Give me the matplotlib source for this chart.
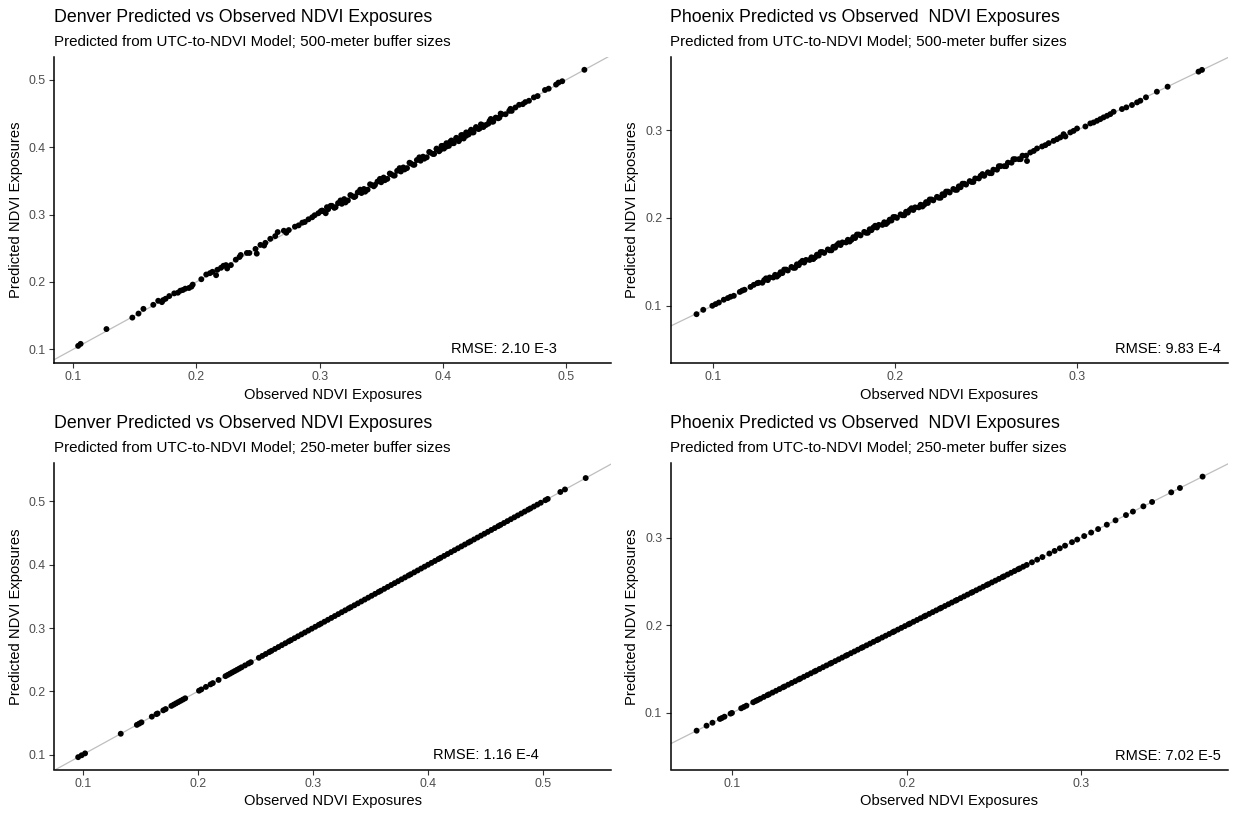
import matplotlib.pyplot as plt

plt.rcParams['font.family'] = ['Liberation Sans', 'DejaVu Sans']

# Denver, 500-meter buffers
den500_obs = [
    0.104, 0.106, 0.127, 0.148, 0.153, 0.157, 0.165, 0.169, 0.172, 0.173,
    0.175, 0.178, 0.182, 0.185, 0.187, 0.189, 0.191, 0.194, 0.196, 0.197,
    0.204, 0.208, 0.211, 0.213, 0.216, 0.217, 0.220, 0.222, 0.224, 0.225,
    0.228, 0.232, 0.235, 0.236, 0.241, 0.243, 0.248, 0.249, 0.252, 0.255,
    0.256, 0.260, 0.264, 0.266, 0.271, 0.273, 0.275, 0.280, 0.283, 0.286,
    0.288, 0.291, 0.294, 0.296, 0.299, 0.302, 0.306,
    0.303, 0.307, 0.310, 0.312, 0.315, 0.318, 0.320, 0.323, 0.326, 0.328,
    0.331, 0.334, 0.336, 0.339, 0.342, 0.344, 0.347, 0.350, 0.352, 0.355,
    0.358, 0.360, 0.363, 0.366, 0.368, 0.371, 0.374, 0.376, 0.379, 0.382,
    0.384, 0.387, 0.390, 0.392, 0.395, 0.398, 0.400, 0.403, 0.406, 0.408,
    0.411, 0.414, 0.416, 0.419, 0.422, 0.424, 0.427, 0.430, 0.432, 0.435,
    0.438, 0.440, 0.443, 0.446, 0.448, 0.451, 0.454, 0.456, 0.459,
    0.305, 0.313, 0.321, 0.329, 0.337, 0.345, 0.353, 0.361, 0.369, 0.377,
    0.385, 0.393, 0.397, 0.401, 0.405, 0.409, 0.413, 0.417, 0.421, 0.425,
    0.429, 0.433, 0.437, 0.441, 0.445,
    0.301, 0.309, 0.317, 0.325, 0.333, 0.341, 0.349, 0.357, 0.365, 0.373,
    0.381, 0.389, 0.395, 0.399, 0.403, 0.407, 0.411, 0.415, 0.419, 0.423,
    0.427, 0.431, 0.439, 0.447, 0.455,
    0.462, 0.465, 0.467, 0.470, 0.474, 0.477, 0.483, 0.486, 0.492, 0.494,
    0.497, 0.515,
]
den500_pred = [
    0.105, 0.108, 0.130, 0.147, 0.153, 0.160, 0.166, 0.172, 0.170, 0.173,
    0.175, 0.179, 0.183, 0.184, 0.187, 0.188, 0.190, 0.191, 0.193, 0.196,
    0.204, 0.211, 0.213, 0.215, 0.210, 0.218, 0.221, 0.224, 0.225, 0.220,
    0.225, 0.233, 0.237, 0.240, 0.243, 0.243, 0.249, 0.242, 0.255, 0.254,
    0.258, 0.264, 0.268, 0.274, 0.276, 0.273, 0.277, 0.282, 0.284, 0.288,
    0.289, 0.293, 0.296, 0.299, 0.302, 0.306, 0.311,
    0.305, 0.308, 0.313, 0.310, 0.317, 0.316, 0.323, 0.321, 0.328, 0.326,
    0.333, 0.332, 0.338, 0.337, 0.344, 0.342, 0.349, 0.348, 0.355, 0.353,
    0.360, 0.358, 0.365, 0.364, 0.370, 0.369, 0.376, 0.374, 0.381, 0.380,
    0.386, 0.385, 0.392, 0.390, 0.397, 0.396, 0.402, 0.401, 0.408, 0.406,
    0.413, 0.412, 0.418, 0.417, 0.423, 0.422, 0.428, 0.428, 0.433, 0.433,
    0.439, 0.438, 0.444, 0.444, 0.449, 0.449, 0.454, 0.454, 0.459,
    0.302, 0.311, 0.318, 0.327, 0.334, 0.344, 0.351, 0.358, 0.367, 0.374,
    0.383, 0.390, 0.394, 0.398, 0.402, 0.406, 0.409, 0.413, 0.419, 0.422,
    0.427, 0.430, 0.435, 0.438, 0.443,
    0.305, 0.313, 0.321, 0.329, 0.337, 0.345, 0.353, 0.361, 0.369, 0.377,
    0.385, 0.393, 0.398, 0.402, 0.406, 0.410, 0.414, 0.418, 0.422, 0.426,
    0.430, 0.434, 0.442, 0.450, 0.457,
    0.463, 0.464, 0.467, 0.469, 0.474, 0.476, 0.485, 0.487, 0.493, 0.496,
    0.498, 0.515,
]

# Phoenix, 500-meter buffers
phx500_obs = [
    0.0908, 0.0945, 0.0995, 0.1013, 0.1031, 0.1058, 0.1080, 0.1095, 0.1113,
    0.1146, 0.1159, 0.1172, 0.1205, 0.1223, 0.1242,
    0.125, 0.127, 0.128, 0.130, 0.131, 0.133, 0.134, 0.136, 0.137, 0.138,
    0.140, 0.141, 0.143, 0.144, 0.146, 0.147, 0.148, 0.150, 0.151, 0.153,
    0.154, 0.156, 0.157, 0.158, 0.160, 0.161, 0.163, 0.164, 0.166, 0.167,
    0.168, 0.170, 0.171, 0.173, 0.174, 0.176, 0.177, 0.178, 0.180, 0.181,
    0.183, 0.184, 0.186, 0.187, 0.188, 0.190, 0.191, 0.193, 0.194, 0.196,
    0.197, 0.198, 0.200, 0.201, 0.203, 0.204, 0.206, 0.207, 0.208, 0.210,
    0.211, 0.213, 0.214, 0.216, 0.217, 0.218, 0.220, 0.221, 0.223, 0.224,
    0.226, 0.227, 0.229, 0.230, 0.232, 0.233, 0.235, 0.236, 0.238, 0.239,
    0.241, 0.242, 0.244, 0.246, 0.247, 0.249, 0.251, 0.252, 0.254, 0.256,
    0.258, 0.260, 0.262, 0.264, 0.266, 0.268, 0.270, 0.272,
    0.129, 0.135, 0.139, 0.145, 0.149, 0.155, 0.159, 0.165, 0.169, 0.175,
    0.179, 0.185, 0.189, 0.195, 0.199, 0.205, 0.209, 0.215, 0.219, 0.225,
    0.228, 0.234, 0.237, 0.243, 0.248, 0.253, 0.257, 0.261, 0.265, 0.269,
    0.2725, 0.2743, 0.2762, 0.2780, 0.2808, 0.2826, 0.2844, 0.2871, 0.2890,
    0.2908, 0.2926, 0.2936, 0.2963, 0.2981, 0.3000, 0.3046, 0.3073, 0.3091,
    0.3110, 0.3128, 0.3146, 0.3165, 0.3183, 0.3201, 0.3247, 0.3271, 0.3302,
    0.3330, 0.3348, 0.3379, 0.3439, 0.3498, 0.3668, 0.3687,
]
phx500_pred = [
    0.0901, 0.0951, 0.0997, 0.1016, 0.1034, 0.1066, 0.1085, 0.1100, 0.1111,
    0.1155, 0.1170, 0.1180, 0.1212, 0.1236, 0.1255,
    0.126, 0.126, 0.129, 0.129, 0.132, 0.132, 0.135, 0.135, 0.138, 0.137,
    0.141, 0.140, 0.144, 0.143, 0.147, 0.146, 0.149, 0.149, 0.152, 0.152,
    0.155, 0.155, 0.158, 0.157, 0.161, 0.160, 0.164, 0.163, 0.167, 0.166,
    0.169, 0.169, 0.172, 0.172, 0.175, 0.175, 0.178, 0.177, 0.181, 0.180,
    0.184, 0.183, 0.187, 0.186, 0.189, 0.189, 0.192, 0.192, 0.195, 0.195,
    0.198, 0.197, 0.201, 0.200, 0.204, 0.203, 0.207, 0.206, 0.209, 0.209,
    0.212, 0.212, 0.215, 0.215, 0.218, 0.217, 0.221, 0.220, 0.224, 0.223,
    0.227, 0.226, 0.230, 0.229, 0.233, 0.232, 0.236, 0.235, 0.239, 0.238,
    0.242, 0.241, 0.245, 0.245, 0.248, 0.248, 0.252, 0.251, 0.255, 0.255,
    0.259, 0.259, 0.263, 0.263, 0.267, 0.267, 0.271, 0.271,
    0.131, 0.133, 0.141, 0.143, 0.151, 0.153, 0.161, 0.163, 0.171, 0.173,
    0.181, 0.183, 0.191, 0.193, 0.201, 0.203, 0.211, 0.213, 0.221, 0.223,
    0.230, 0.232, 0.239, 0.241, 0.250, 0.251, 0.259, 0.259, 0.267, 0.267,
    0.2649, 0.2746, 0.2764, 0.2792, 0.2815, 0.2830, 0.2853, 0.2879, 0.2898,
    0.2918, 0.2955, 0.2929, 0.2975, 0.2993, 0.3020, 0.3043, 0.3078, 0.3089,
    0.3108, 0.3127, 0.3147, 0.3165, 0.3184, 0.3211, 0.3242, 0.3261, 0.3288,
    0.3318, 0.3337, 0.3376, 0.3440, 0.3497, 0.3669, 0.3689,
]

# Denver, 250-meter buffers
den250_obs = [
    0.096, 0.099, 0.102, 0.133, 0.147, 0.149, 0.151, 0.160, 0.164, 0.165,
    0.170, 0.172, 0.177, 0.179, 0.181, 0.183, 0.185, 0.187, 0.189, 0.201,
    0.203, 0.207, 0.211, 0.213, 0.218, 0.224, 0.226, 0.228, 0.230, 0.232,
    0.234, 0.236, 0.238, 0.241, 0.244, 0.246, 0.253, 0.256, 0.259, 0.262,
    0.264, 0.267,
    0.270, 0.273, 0.276, 0.279, 0.281, 0.284, 0.287, 0.290, 0.293, 0.296,
    0.299, 0.302, 0.305, 0.307, 0.310, 0.313, 0.316, 0.319, 0.322, 0.325,
    0.328, 0.331, 0.333, 0.336, 0.339, 0.342, 0.345, 0.348, 0.351, 0.354,
    0.357, 0.359, 0.362, 0.365, 0.368, 0.371, 0.374, 0.377, 0.380, 0.383,
    0.385, 0.388, 0.391, 0.394, 0.397, 0.400, 0.403, 0.406, 0.409, 0.411,
    0.414, 0.417, 0.420, 0.423, 0.426, 0.429, 0.432, 0.435, 0.437, 0.440,
    0.443, 0.446, 0.449, 0.452, 0.455, 0.458, 0.461, 0.463, 0.466, 0.469,
    0.472, 0.475, 0.478, 0.481, 0.484, 0.487, 0.489, 0.492, 0.495, 0.498,
    0.502, 0.504, 0.515, 0.519, 0.537,
]
den250_pred = [
    0.096, 0.099, 0.102, 0.133, 0.147, 0.149, 0.151, 0.160, 0.164, 0.165,
    0.170, 0.172, 0.177, 0.179, 0.181, 0.183, 0.185, 0.187, 0.189, 0.201,
    0.203, 0.207, 0.211, 0.213, 0.218, 0.224, 0.226, 0.228, 0.230, 0.232,
    0.234, 0.236, 0.238, 0.241, 0.244, 0.246, 0.253, 0.256, 0.259, 0.262,
    0.264, 0.267,
    0.270, 0.273, 0.276, 0.279, 0.281, 0.284, 0.287, 0.290, 0.293, 0.296,
    0.299, 0.302, 0.305, 0.307, 0.310, 0.313, 0.316, 0.319, 0.322, 0.325,
    0.328, 0.331, 0.333, 0.336, 0.339, 0.342, 0.345, 0.348, 0.351, 0.354,
    0.357, 0.359, 0.362, 0.365, 0.368, 0.371, 0.374, 0.377, 0.380, 0.383,
    0.385, 0.388, 0.391, 0.394, 0.397, 0.400, 0.403, 0.406, 0.409, 0.411,
    0.414, 0.417, 0.420, 0.423, 0.426, 0.429, 0.432, 0.435, 0.437, 0.440,
    0.443, 0.446, 0.449, 0.452, 0.455, 0.458, 0.461, 0.463, 0.466, 0.469,
    0.472, 0.475, 0.478, 0.481, 0.484, 0.487, 0.489, 0.492, 0.495, 0.498,
    0.502, 0.504, 0.515, 0.519, 0.537,
]

# Phoenix, 250-meter buffers
phx250_obs = [
    0.0794, 0.0851, 0.0885, 0.0928, 0.0939, 0.0954, 0.0989, 0.0997, 0.1050,
    0.1065, 0.1080, 0.1119, 0.1134, 0.1145,
    0.116, 0.118, 0.120, 0.121, 0.123, 0.125, 0.127, 0.129, 0.130, 0.132,
    0.134, 0.136, 0.138, 0.139, 0.141, 0.143, 0.145, 0.147, 0.148, 0.150,
    0.152, 0.154, 0.156, 0.157, 0.159, 0.161, 0.163, 0.165, 0.166, 0.168,
    0.170, 0.172, 0.174, 0.175, 0.177, 0.179, 0.181, 0.183, 0.184, 0.186,
    0.188, 0.190, 0.192, 0.193, 0.195, 0.197, 0.199, 0.201, 0.202, 0.204,
    0.206, 0.208, 0.210, 0.211, 0.213, 0.215, 0.217, 0.219, 0.220, 0.222,
    0.224, 0.226, 0.228, 0.229, 0.231, 0.233, 0.235, 0.237, 0.238, 0.240,
    0.242, 0.244, 0.246, 0.247, 0.249, 0.251, 0.253, 0.255, 0.256, 0.258,
    0.260, 0.262, 0.264, 0.265, 0.267, 0.269,
    0.272, 0.275, 0.278, 0.282, 0.285, 0.288, 0.291, 0.295, 0.298, 0.302,
    0.306, 0.310, 0.315, 0.320, 0.326, 0.330, 0.336, 0.341, 0.352, 0.357,
    0.370,
]
phx250_pred = [
    0.0794, 0.0851, 0.0885, 0.0928, 0.0939, 0.0954, 0.0989, 0.0997, 0.1050,
    0.1065, 0.1080, 0.1119, 0.1134, 0.1145,
    0.116, 0.118, 0.120, 0.121, 0.123, 0.125, 0.127, 0.129, 0.130, 0.132,
    0.134, 0.136, 0.138, 0.139, 0.141, 0.143, 0.145, 0.147, 0.148, 0.150,
    0.152, 0.154, 0.156, 0.157, 0.159, 0.161, 0.163, 0.165, 0.166, 0.168,
    0.170, 0.172, 0.174, 0.175, 0.177, 0.179, 0.181, 0.183, 0.184, 0.186,
    0.188, 0.190, 0.192, 0.193, 0.195, 0.197, 0.199, 0.201, 0.202, 0.204,
    0.206, 0.208, 0.210, 0.211, 0.213, 0.215, 0.217, 0.219, 0.220, 0.222,
    0.224, 0.226, 0.228, 0.229, 0.231, 0.233, 0.235, 0.237, 0.238, 0.240,
    0.242, 0.244, 0.246, 0.247, 0.249, 0.251, 0.253, 0.255, 0.256, 0.258,
    0.260, 0.262, 0.264, 0.265, 0.267, 0.269,
    0.272, 0.275, 0.278, 0.282, 0.285, 0.288, 0.291, 0.295, 0.298, 0.302,
    0.306, 0.310, 0.315, 0.320, 0.326, 0.330, 0.336, 0.341, 0.352, 0.357,
    0.370,
]

titles = [
    "Denver Predicted vs Observed NDVI Exposures",
    "Phoenix Predicted vs Observed  NDVI Exposures",
    "Denver Predicted vs Observed NDVI Exposures",
    "Phoenix Predicted vs Observed  NDVI Exposures",
]
subtitles = [
    "Predicted from UTC-to-NDVI Model; 500-meter buffer sizes",
    "Predicted from UTC-to-NDVI Model; 500-meter buffer sizes",
    "Predicted from UTC-to-NDVI Model; 250-meter buffer sizes",
    "Predicted from UTC-to-NDVI Model; 250-meter buffer sizes",
]
rmse_labels = ["RMSE: 2.10 E-3", "RMSE: 9.83 E-4", "RMSE: 1.16 E-4", "RMSE: 7.02 E-5"]
rmse_pos = [(0.45, 0.1), (0.35, 0.05), (0.45, 0.1), (0.35, 0.05)]
x_limits = [(0.0844, 0.5366), (0.0765, 0.383), (0.075, 0.559), (0.0644, 0.3846)]
y_limits = [(0.0796, 0.534), (0.0344, 0.3836), (0.0765, 0.560), (0.035, 0.385)]
ticks_den = [0.1, 0.2, 0.3, 0.4, 0.5]
ticks_phx = [0.1, 0.2, 0.3]

series = [
    (den500_obs, den500_pred, ticks_den),
    (phx500_obs, phx500_pred, ticks_phx),
    (den250_obs, den250_pred, ticks_den),
    (phx250_obs, phx250_pred, ticks_phx),
]

W, H = 1234, 813
fig = plt.figure(figsize=(W / 100, H / 100), dpi=100)

# panel boxes in pixels: left, right, top, bottom
boxes = [
    (54, 611, 57, 363),
    (670.5, 1228, 57, 363),
    (54, 611, 463.5, 769.5),
    (670.5, 1228, 463.5, 769.5),
]

for i, (obs, pred, ticks) in enumerate(series):
    l, r, t, b = boxes[i]
    ax = fig.add_axes([l / W, 1 - b / H, (r - l) / W, (b - t) / H])
    ax.set_xlim(x_limits[i])
    ax.set_ylim(y_limits[i])

    # 1:1 reference line
    ax.axline((0.2, 0.2), slope=1, color='#BEBEBE', lw=0.9, zorder=1)
    ax.scatter(obs, pred, s=18, color='black', edgecolors='none', zorder=2)

    ax.set_xticks(ticks)
    ax.set_yticks(ticks)
    ax.set_xticklabels([f"{v:.1f}" for v in ticks])
    ax.set_yticklabels([f"{v:.1f}" for v in ticks])
    ax.tick_params(length=3.5, width=0.8, color='#333333', labelcolor='#4D4D4D',
                   labelsize=8.9, pad=2.5)
    for side in ('top', 'right'):
        ax.spines[side].set_visible(False)
    for side in ('left', 'bottom'):
        ax.spines[side].set_linewidth(1.1)
        ax.spines[side].set_color('black')

    ax.set_xlabel("Observed NDVI Exposures", fontsize=10.6, labelpad=3)
    ax.set_ylabel("Predicted NDVI Exposures", fontsize=10.6, labelpad=4)

    ax.annotate(titles[i], xy=(0, 1), xycoords='axes fraction',
                xytext=(0, 25.5), textcoords='offset points',
                fontsize=12.8, va='baseline', ha='left')
    ax.annotate(subtitles[i], xy=(0, 1), xycoords='axes fraction',
                xytext=(0, 8), textcoords='offset points',
                fontsize=10.9, va='baseline', ha='left')

    ax.text(rmse_pos[i][0], rmse_pos[i][1], rmse_labels[i], fontsize=10.5,
            ha='center', va='center')

fig.savefig("out.png", dpi=100)
